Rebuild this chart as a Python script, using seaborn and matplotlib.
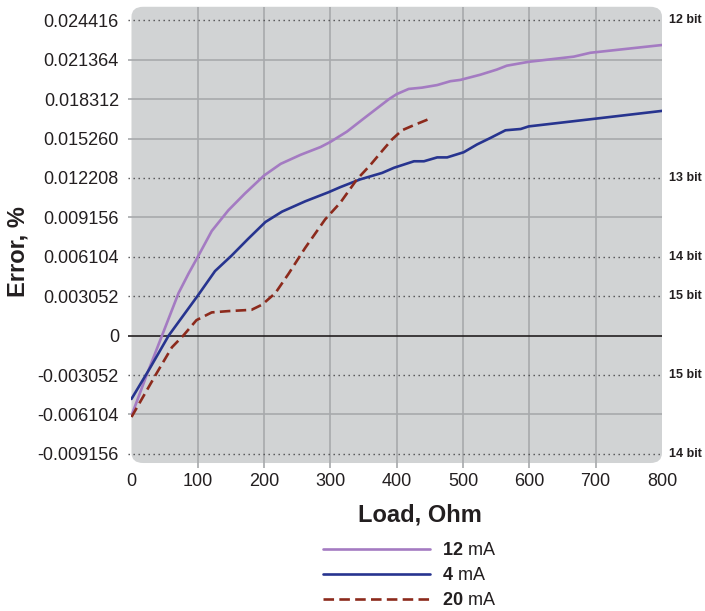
import matplotlib
matplotlib.use("Agg")
import matplotlib.pyplot as plt
from matplotlib.patches import FancyBboxPatch
from matplotlib.lines import Line2D
import pandas as pd
import seaborn as sns

# =========================
# Data (load in Ohm, error in %)
# =========================
load_12ma = [0, 24, 46, 71, 86, 100, 121, 146, 171, 200, 225, 255, 285, 300, 325, 350, 388,
             400, 418, 438, 461, 481, 496, 526, 551, 566, 599, 667, 692, 800]
err_12ma = [-0.0062, -0.0029, 0.0000, 0.0033, 0.0048, 0.0061, 0.0081, 0.0097, 0.0110, 0.0124,
            0.0133, 0.0140, 0.0146, 0.0150, 0.0158, 0.0168, 0.0183, 0.0187, 0.0191, 0.0192,
            0.0194, 0.0197, 0.0198, 0.0202, 0.0206, 0.0209, 0.0212, 0.0216, 0.0219, 0.0225]

load_4ma = [0, 28, 56, 100, 126, 151, 176, 202, 227, 262, 297, 315, 345, 378, 396, 426,
            441, 461, 476, 501, 521, 541, 564, 587, 599, 700, 800]
err_4ma = [-0.0049, -0.0025, 0.0000, 0.0031, 0.0050, 0.0062, 0.0075, 0.0088, 0.0096, 0.0104,
           0.0111, 0.0115, 0.0121, 0.0126, 0.0130, 0.0135, 0.0135, 0.0138, 0.0138, 0.0142,
           0.0148, 0.0153, 0.0159, 0.0160, 0.0162, 0.0168, 0.0174]

load_20ma = [0, 38, 61, 78, 98, 121, 146, 181, 197, 217, 237, 262, 292, 315, 340, 360,
             378, 393, 408, 426, 450]
err_20ma = [-0.0063, -0.0029, -0.0009, 0.0000, 0.0012, 0.0018, 0.0019, 0.0020, 0.0024, 0.0033,
            0.0048, 0.0068, 0.0090, 0.0103, 0.0121, 0.0132, 0.0143, 0.0152, 0.0159, 0.0163,
            0.0168]

series_names = ["12 mA", "4 mA", "20 mA"]
legend_labels = [r"$\mathbf{12}$ mA", r"$\mathbf{4}$ mA", r"$\mathbf{20}$ mA"]

y_ticks = [0.024416, 0.021364, 0.018312, 0.015260, 0.012208, 0.009156, 0.006104,
           0.003052, 0, -0.003052, -0.006104, -0.009156]
y_tick_labels = ["0.024416", "0.021364", "0.018312", "0.015260", "0.012208", "0.009156",
                 "0.006104", "0.003052", "0", "-0.003052", "-0.006104", "-0.009156"]
x_ticks = [0, 100, 200, 300, 400, 500, 600, 700, 800]

bit_levels = [0.024416, 0.012208, 0.006104, 0.003052, -0.003052, -0.009156]
bit_labels = ["12 bit", "13 bit", "14 bit", "15 bit", "15 bit", "14 bit"]
grid_levels = [0.021364, 0.018312, 0.015260, 0.009156, -0.006104]

# =========================
# Style
# =========================
sns.set_style("white")
plt.rcParams["font.family"] = ["Liberation Sans", "DejaVu Sans"]
plt.rcParams["mathtext.fontset"] = "custom"
plt.rcParams["mathtext.rm"] = "Liberation Sans"
plt.rcParams["mathtext.bf"] = "Liberation Sans:bold"

palette = {"12 mA": "#A47BC2", "4 mA": "#27348F", "20 mA": "#8C2A1C"}
dashes = {"12 mA": "", "4 mA": "", "20 mA": (4, 2)}
TXT = "#231F20"
PANEL = "#D1D3D4"
GRID = "#A7A9AC"

df = pd.concat([
    pd.DataFrame({"load": load_12ma, "error": err_12ma, "current": "12 mA"}),
    pd.DataFrame({"load": load_4ma, "error": err_4ma, "current": "4 mA"}),
    pd.DataFrame({"load": load_20ma, "error": err_20ma, "current": "20 mA"}),
], ignore_index=True)

fig = plt.figure(figsize=(7.05, 6.11), dpi=100)
ax = fig.add_axes([0.1865, 0.2422, 0.7525, 0.7467])
ymin, ymax = -0.00986, 0.02546
ax.set_xlim(0, 800)
ax.set_ylim(ymin, ymax)
ax.patch.set_visible(False)
for sp in ax.spines.values():
    sp.set_visible(False)

# rounded grey panel
panel = FancyBboxPatch((0, 0), 1, 1, boxstyle="round,pad=0,rounding_size=0.022",
                       transform=ax.transAxes, fc=PANEL, ec="none", zorder=0, clip_on=False)
ax.add_patch(panel)

# grid
ax.vlines(x_ticks[1:-1], ymin - 0.0004, ymax, color=GRID, lw=1.2, zorder=1, clip_on=False)
ax.hlines(grid_levels, -6, 800, color=GRID, lw=1.2, zorder=1, clip_on=False)
ax.hlines(bit_levels, -6, 800, color="#4D4D4F", lw=1.0, linestyles=(0, (1, 2.6)),
          zorder=1, clip_on=False)
ax.hlines([0], -6, 800, color=TXT, lw=1.2, zorder=2, clip_on=False)

sns.lineplot(data=df, x="load", y="error", hue="current", style="current",
             palette=palette, dashes=dashes, estimator=None, sort=False,
             lw=1.9, legend=False, ax=ax, zorder=3)

# bit labels on the right
for lvl, lab in zip(bit_levels, bit_labels):
    ax.text(1.0 + 7 / 530, lvl, lab, transform=ax.get_yaxis_transform(),
            ha="left", va="center", fontsize=9, fontweight="bold", color=TXT)

ax.set_xticks(x_ticks)
ax.set_yticks(y_ticks)
ax.set_yticklabels(y_tick_labels)
ax.tick_params(length=0, labelsize=13, colors=TXT)
ax.tick_params(axis="y", pad=9)
ax.tick_params(axis="x", pad=7)

ax.set_xlabel("Load, Ohm", fontsize=17, fontweight="bold", color=TXT)
ax.xaxis.set_label_coords(0.543, -0.088)
ax.set_ylabel("Error, %", fontsize=17, fontweight="bold", color=TXT)
ax.yaxis.set_label_coords(-0.192, 0.4627)

handles = [Line2D([], [], color=palette[n], lw=1.9,
                  ls=(0, dashes[n]) if dashes[n] else "-") for n in series_names]
fig.legend(handles, legend_labels, loc="upper left", bbox_to_anchor=(323 / 705, 1 - 542 / 611),
           frameon=False, fontsize=13, handlelength=5.9, handletextpad=0.7,
           labelspacing=0.45, borderpad=0, borderaxespad=0, labelcolor=TXT)

fig.savefig("out.png", dpi=100)
